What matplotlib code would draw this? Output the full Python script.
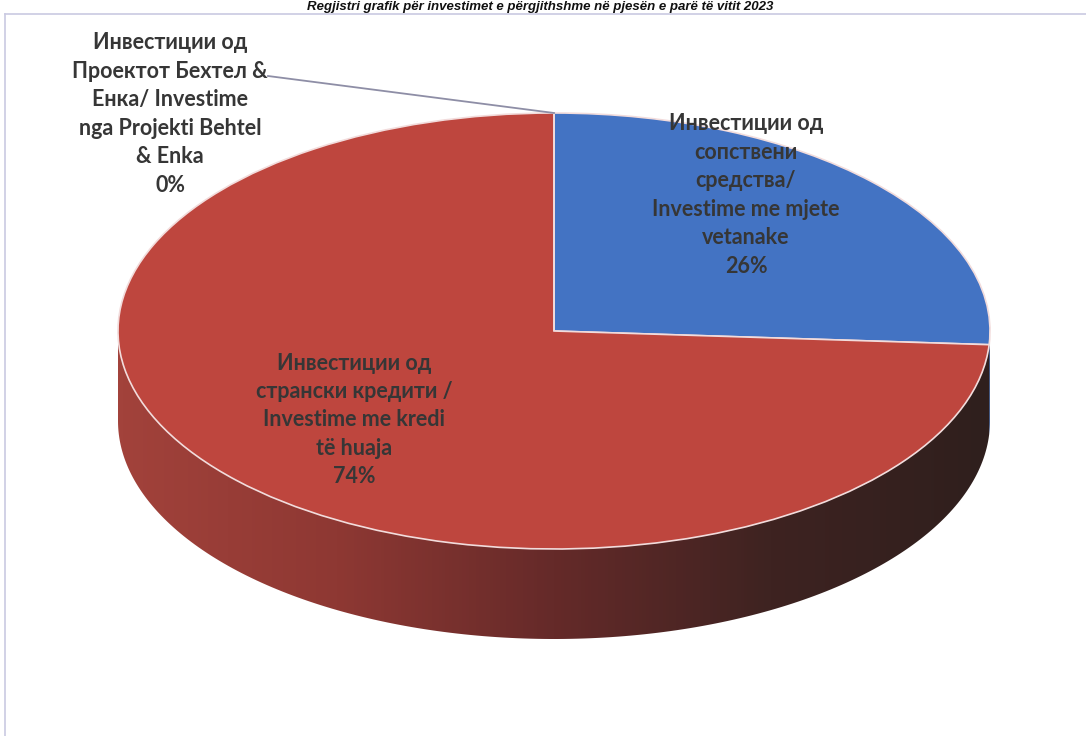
import numpy as np
import matplotlib
matplotlib.use('Agg')
import matplotlib.pyplot as plt
from matplotlib.patches import Polygon
from matplotlib.colors import LinearSegmentedColormap
from matplotlib.lines import Line2D

# ---------------- data ----------------
title = "Regjistri grafik për investimet e përgjithshme në pjesën e parë të vitit 2023"
categories = [
    "Инвестиции од\nсопствени\nсредства/\nInvestime me mjete\nvetanake",
    "Инвестиции од\nстрански кредити /\nInvestime me kredi\ntë huaja",
    "Инвестиции од\nПроектот Бехтел &\nЕнка/ Investime\nnga Projekti Behtel\n& Enka",
]
shares = [26.0, 74.0, 0.0]
pct_labels = ["26%", "74%", "0%"]
top_colors = ["#4373C3", "#BE463E", "#9BBB59"]
side_colors = ["#2C4A82", None, "#5E7530"]  # red side uses gradient

# ---------------- layout (pixels) ----------------
W, H = 1086, 736
cx, cy = 554, 331          # centre of top face
a, b = 436, 218            # semi-axes
depth = 90                 # thickness of the pie

fig = plt.figure(figsize=(W / 100, H / 100), dpi=100)
fig.patch.set_facecolor("white")
ax = fig.add_axes([0, 0, 1, 1])

def ux(px):
    return (px - cx) / a

def uy(py):
    return (cy - py) / b

d = depth / b

# top face via library pie
wedges, _ = ax.pie(shares, colors=top_colors, startangle=90, counterclock=False,
                   radius=1.0, center=(0, 0),
                   wedgeprops=dict(edgecolor="#F2DCDC", linewidth=1.2, zorder=3))
ax.set_aspect("auto")
ax.set_xlim(ux(0), ux(W))
ax.set_ylim(uy(H), uy(0))
ax.axis("off")

# side walls (front half) computed from the same shares
cum = np.concatenate([[0], np.cumsum(shares)]) / np.sum(shares) * 360.0
red_cmap = LinearSegmentedColormap.from_list(
    "side", ["#A2423B", "#8E3833", "#652A29", "#3E2321", "#2F1F1D"])
for i in range(len(shares)):
    t0 = 90 - cum[i]
    t1 = 90 - cum[i + 1]
    lo, hi = max(t1, -180), min(t0, 0)
    if hi <= lo:
        continue
    th = np.radians(np.linspace(hi, lo, 200))
    xs_top = np.cos(th)
    ys_top = np.sin(th)
    verts = np.vstack([np.column_stack([xs_top, ys_top]),
                       np.column_stack([xs_top[::-1], ys_top[::-1] - d])])
    if side_colors[i] is None:
        poly = Polygon(verts, closed=True, facecolor="none", edgecolor="none", zorder=1)
        ax.add_patch(poly)
        grad = np.linspace(0, 1, 256).reshape(1, -1)
        im = ax.imshow(grad, cmap=red_cmap, aspect="auto",
                       extent=(-1, 1, -1 - d, 0.2), zorder=1, interpolation="bilinear")
        im.set_clip_path(poly)
    else:
        poly = Polygon(verts, closed=True, facecolor=side_colors[i],
                       edgecolor="none", zorder=1)
        ax.add_patch(poly)

# label texts
label_font = dict(family=["Lato", "DejaVu Sans"], fontweight="bold",
                  fontsize=15.5, color="#363636", ha="center", va="center",
                  linespacing=1.44, zorder=5)
label_pos = [(746, 195), (354, 420), (170, 114)]
for txt, pct, (px, py) in zip(categories, pct_labels, label_pos):
    ax.text(ux(px), uy(py), txt + "\n" + pct, **label_font)

# leader line for the 0% slice (to top of pie)
ang0 = np.radians(90 - cum[2])
ax.add_line(Line2D([ux(268), np.cos(ang0)], [uy(76), np.sin(ang0)],
                   color="#8E8EA6", linewidth=1.3, zorder=4))

# chart frame (runs off the right and bottom edges)
fig.add_artist(Line2D([5 / W, 1], [1 - 14 / H, 1 - 14 / H],
                      color="#CACAE2", linewidth=1.2))
fig.add_artist(Line2D([5 / W, 5 / W], [0, 1 - 14 / H],
                      color="#CACAE2", linewidth=1.2))

# title above the frame
fig.text(540 / W, 1 - 1 / H, title, ha="center", va="top",
         fontsize=9.5, fontweight="bold", fontstyle="italic",
         family=["Liberation Sans", "DejaVu Sans"], color="#111111")

fig.savefig("out.png", dpi=100, facecolor="white")
